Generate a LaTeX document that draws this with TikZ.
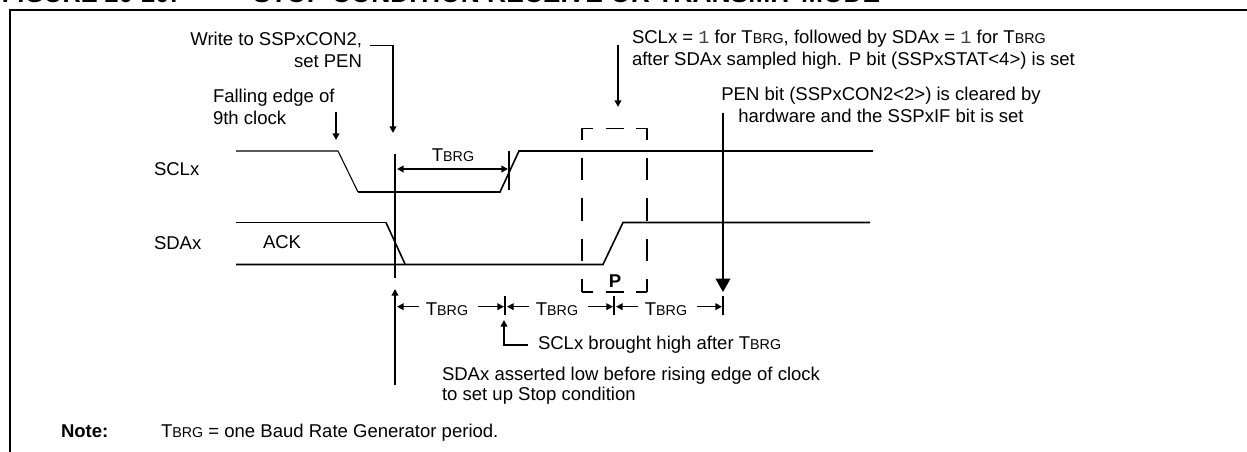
\documentclass[tikz,border=0pt]{standalone}
\usepackage{fontspec}
\setmainfont{Liberation Sans}
\newfontfamily\monofont{Liberation Mono}
\usetikzlibrary{arrows.meta}
\newcommand{\basefont}{\fontsize{13.9}{16.5}\selectfont}
\newcommand{\tbrg}{T{\fontsize{10.7}{12}\selectfont BRG}}
\newcommand{\one}{{\monofont\color{black!75}1}}
\tikzset{
  pointer/.style={line width=1.2pt,-{Stealth[inset=0pt,length=5pt,width=5pt]}},
  bigpointer/.style={line width=1.2pt,-{Stealth[inset=0pt,length=10pt,width=11pt]}},
  signal/.style={line width=1.2pt,line join=miter},
  thinsignal/.style={line width=0.8pt},
  frameline/.style={line width=1.6pt},
  vdash/.style={line width=1.2pt,dash pattern=on 16.7pt off 13.7pt,dash phase=8.4pt},
  hdash/.style={line width=1.2pt,dash pattern=on 13.5pt off 9.4pt,dash phase=5.2pt}
}

\begin{document}
\begin{tikzpicture}[x=0.75pt,y=-0.75pt,every node/.style={inner sep=0pt, outer sep=0pt, font=\basefont}]
\useasboundingbox (0,0) rectangle (1247,452);

% frame and title
\draw[frameline] (10,452) -- (10,10) -- (1247,10);
\node[anchor=base west,font=\fontsize{19}{22}\bfseries\selectfont] (figNo) at (2,3) {FIGURE 20-20:};
\node[anchor=base west,font=\fontsize{19.8}{22}\bfseries\selectfont] (figTitle) at (253,3) {STOP CONDITION RECEIVE OR TRANSMIT MODE};

% signal names
\node[anchor=base west] (sclName) at (154,176) {SCLx};
\node[anchor=base west] (sdaName) at (154,250) {SDAx};
\node[anchor=base west] (ackName) at (263,249) {ACK};

% waveforms
\draw[thinsignal] (236,151) -- (338,151) -- (358,192);
\draw[signal] (358,192) -- (500,192) -- (519,151) -- (873,151);
\draw[thinsignal] (236,222.5) -- (386,222.5);
\draw[signal] (386,222.5) -- (405,264);
\draw[signal] (236,264.5) -- (603,264.5) -- (623,222.5) -- (870,222.5);

% markers
\draw[signal] (395,154) -- (395,278);
\draw[signal] (509,151) -- (509,190);
\draw[signal] (505,296) -- (505,315);
\draw[signal] (614,296) -- (614,315);
\draw[signal] (723,296) -- (723,315);

% stop box
\draw[vdash] (582,128.5) -- (582,292);
\draw[vdash] (647,128.5) -- (647,292);
\draw[hdash] (582,128.5) -- (647,128.5);
\draw[hdash] (582,292) -- (647,292);
\node[anchor=base,font=\basefont\bfseries] (stopBit) at (615,288) {P};

% notes
\node[anchor=base east,align=right] (writeNote) at (362,68) {Write to SSPxCON2,\\set PEN};
\node[anchor=base west,align=left] (fallNote) at (213,125) {Falling edge of\\9th clock};
\node[anchor=base west,align=left] (highNote) at (632,65.5) {SCLx = \one{} for \tbrg, followed by SDAx = \one{} for \tbrg\\after SDAx sampled high. P bit (SSPxSTAT<4>) is set};
\node[anchor=base,align=center] (penNote) at (881,123) {PEN bit (SSPxCON2<2>) is cleared by\\hardware and the SSPxIF bit is set};
\node[anchor=base west] (sclNote) at (538,350) {SCLx brought high after \tbrg};
\node[anchor=base west,align=left,font=\fontsize{13.9}{15}\selectfont] (sdaNote) at (442,401) {SDAx asserted low before rising edge of clock\\to set up Stop condition};
\node[anchor=base west,font=\basefont\bfseries] (noteHead) at (61,437) {Note:};
\node[anchor=base west] (noteText) at (161,437) {\tbrg{} = one Baud Rate Generator period.};

% intervals
\node[anchor=base] (tbrgTop) at (453,162) {\tbrg};
\node[anchor=base] (tbrgA) at (447,316) {\tbrg};
\node[anchor=base] (tbrgB) at (557,316) {\tbrg};
\node[anchor=base] (tbrgC) at (666,316) {\tbrg};
\coordinate (edgeA) at (397,169);
\coordinate (edgeB) at (508,169);
\coordinate (tickA) at (397,306.7);
\coordinate (tickB) at (504,306.7);
\coordinate (tickC) at (507,306.7);
\coordinate (tickD) at (613,306.7);
\coordinate (tickE) at (616,306.7);
\coordinate (tickF) at (722,306.7);
\draw[pointer] (tbrgTop.south |- edgeA) -- (edgeA);
\draw[pointer] (tbrgTop.south |- edgeB) -- (edgeB);
\draw[pointer] ([xshift=-5pt]tbrgA.west |- tickA) -- (tickA);
\draw[pointer] ([xshift=7.5pt]tbrgA.east |- tickB) -- (tickB);
\draw[pointer] ([xshift=-5pt]tbrgB.west |- tickC) -- (tickC);
\draw[pointer] ([xshift=7.5pt]tbrgB.east |- tickD) -- (tickD);
\draw[pointer] ([xshift=-5pt]tbrgC.west |- tickE) -- (tickE);
\draw[pointer] ([xshift=7.5pt]tbrgC.east |- tickF) -- (tickF);

% callouts
\coordinate (writeTip) at (393,133);
\coordinate (fallTail) at (336,112);
\coordinate (fallTip) at (336,140);
\coordinate (highTail) at (618,45);
\coordinate (highTip) at (618,107);
\coordinate (penTail) at (723,113);
\coordinate (penTip) at (723,292);
\coordinate (sclTip) at (504,320);
\coordinate (sdaTail) at (395,385);
\coordinate (sdaTip) at (395,289);
\draw[pointer] ([xshift=6pt,yshift=3.75pt]writeNote.east) -| (writeTip);
\draw[pointer] (fallTail) -- (fallTip);
\draw[pointer] (highTail) -- (highTip);
\draw[bigpointer] (penTail) -- (penTip);
\draw[pointer] ([xshift=-7.5pt]sclNote.west) -| (sclTip);
\draw[pointer] (sdaTail) -- (sdaTip);

\end{tikzpicture}
\end{document}
